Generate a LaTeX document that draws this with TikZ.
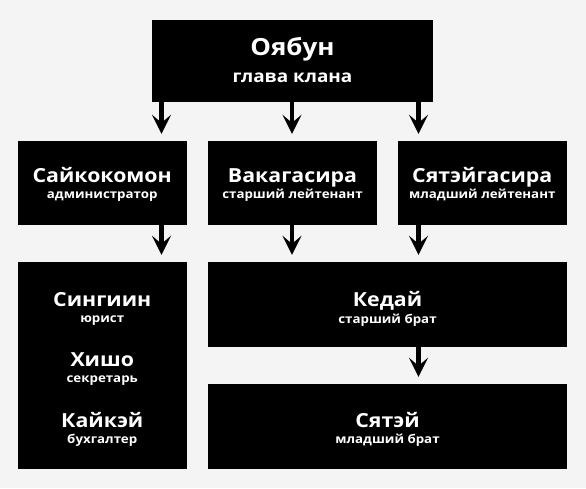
\documentclass[tikz,border=0pt]{standalone}
\usepackage{fontspec}
\setmainfont{Open Sans}[FakeStretch=1.1]
\usetikzlibrary{arrows.meta}
\definecolor{bgcol}{HTML}{F4F4F4}
\newcommand{\bigt}{\fontsize{23.6}{23.6}\selectfont}
\newcommand{\midt}{\fontsize{19.4}{19.4}\selectfont}
\newcommand{\subt}{\fontsize{17.2}{17.2}\selectfont}
\newcommand{\smallt}{\fontsize{12.1}{12.1}\selectfont}
\newcommand{\hstrut}[1]{\rule{0pt}{#1pt}}
\newcommand{\dstrut}{\rule[-5pt]{0pt}{5pt}}
\begin{document}
\begin{tikzpicture}[x=1pt,y=-1pt,
  box/.style={fill=black, draw=none, text=white, align=center, inner sep=0pt},
  topbox/.style={box, minimum width=281pt, minimum height=82pt,
    font={\bfseries\fontsize{16}{27}\selectfont\lineskiplimit=-50pt}},
  rowbox/.style={box, minimum width=169.5pt, minimum height=84pt,
    font={\bfseries\fontsize{11.5}{16}\selectfont\lineskiplimit=-50pt}},
  widebox/.style={box, minimum width=359pt, minimum height=85pt,
    font={\bfseries\fontsize{11.5}{17}\selectfont\lineskiplimit=-50pt}},
  listbox/.style={box, minimum width=169.5pt, minimum height=207pt,
    font={\bfseries\fontsize{11.5}{16}\selectfont\lineskiplimit=-50pt}},
  conn/.style={line width=4.4pt, -{Stealth[length=19pt,width=19pt,inset=8pt]}, shorten >=7pt}
]
\fill[bgcol] (0,0) rectangle (586,488);
\useasboundingbox (0,0) rectangle (586,488);

\node[topbox] (oyabun) at (292.5,61) {{\bigt\hstrut{20}Оябун}\\{\subt глава клана\dstrut}};

\node[rowbox] (saiko) at (102.25,183) {{\midt\hstrut{19}Сайкокомон}\\{\smallt администратор\dstrut}};
\node[rowbox] (waka) at (292.5,183) {{\midt\hstrut{19}Вакагасира}\\{\smallt старший лейтенант\dstrut}};
\node[rowbox] (shatei) at (482.25,183) {{\midt\hstrut{19}Сятэйгасира}\\{\smallt младший лейтенант\dstrut}};

\node[listbox] (staff) at (102.25,365.5) {{\midt\hstrut{23}Сингиин}\\{\smallt юрист}\\[28.5pt]{\midt Хишо}\\{\smallt секретарь}\\[28.5pt]{\midt Кайкэй}\\{\smallt бухгалтер\dstrut}};

\node[widebox] (kedai) at (387.5,304.5) {{\midt\hstrut{25}Кедай}\\{\smallt старший брат\dstrut}};
\node[widebox, font={\bfseries\fontsize{11.5}{16}\selectfont\lineskiplimit=-50pt}] (syatei) at (387.5,426.5) {{\midt\hstrut{22}Сятэй}\\{\smallt младший брат\dstrut}};

\coordinate (a1) at (161.5,0);
\coordinate (a2) at (292,0);
\coordinate (a3) at (418.5,0);

\draw[conn] (oyabun.south -| a1) -- (saiko.north -| a1);
\draw[conn] (oyabun.south -| a2) -- (waka.north -| a2);
\draw[conn] (oyabun.south -| a3) -- (shatei.north -| a3);
\draw[conn] (saiko.south -| a1) -- (staff.north -| a1);
\draw[conn] (waka.south -| a2) -- (kedai.north -| a2);
\draw[conn] (shatei.south -| a3) -- (kedai.north -| a3);
\draw[conn] (kedai.south -| a3) -- (syatei.north -| a3);
\end{tikzpicture}
\end{document}
